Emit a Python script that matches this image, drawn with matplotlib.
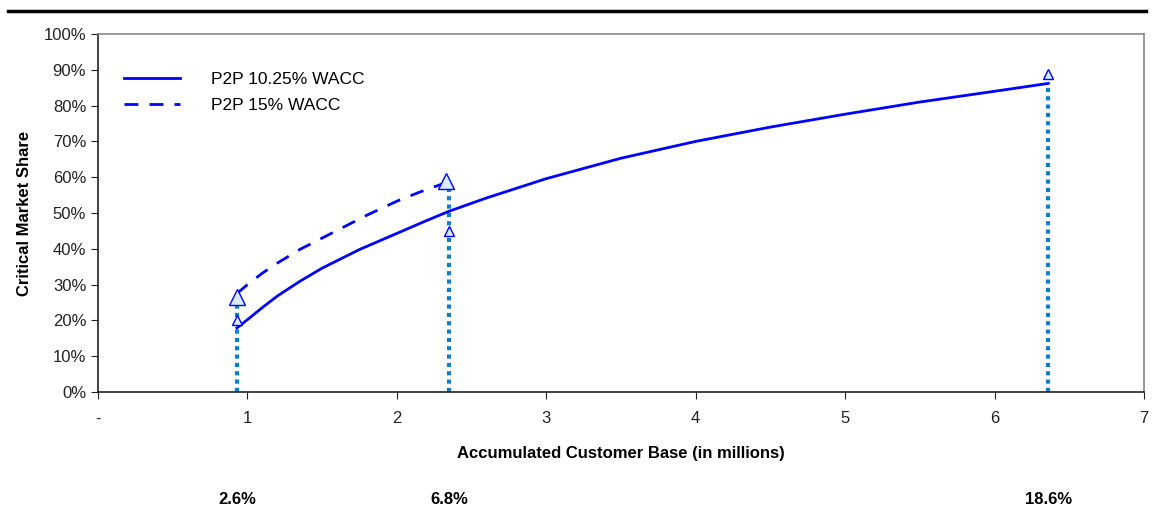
import matplotlib
matplotlib.use('Agg')
import matplotlib.pyplot as plt
from matplotlib.ticker import FixedLocator, FixedFormatter, PercentFormatter

plt.rcParams['font.family'] = ['Liberation Sans', 'DejaVu Sans']

# solid curve: P2P 10.25% WACC
base_1025 = [0.93, 1.0, 1.1, 1.2, 1.35, 1.5, 1.75, 2.0, 2.2, 2.35, 2.6, 3.0, 3.5,
             4.0, 4.5, 5.0, 5.5, 6.0, 6.36]
share_1025 = [17.9, 20.2, 23.6, 26.8, 30.9, 34.6, 39.8, 44.3, 47.9, 50.5, 54.2, 59.6,
              65.3, 70.0, 74.0, 77.6, 81.0, 84.0, 86.2]

# dashed curve: P2P 15% WACC
base_15 = [0.93, 1.0, 1.1, 1.2, 1.35, 1.5, 1.65, 1.8, 2.0, 2.15, 2.33]
share_15 = [27.5, 30.0, 33.2, 36.0, 39.8, 43.0, 46.2, 49.4, 53.3, 55.8, 58.5]

# break-even markers
drop_x = [0.93, 2.35, 6.36]
drop_top = [26.0, 58.0, 86.2]
big_tri_x = [0.93, 2.33]
big_tri_y = [26.5, 59.0]
small_tri_x = [0.93, 2.35, 6.36]
small_tri_y = [20.0, 45.0, 88.8]
bottom_labels = ['2.6%', '6.8%', '18.6%']

xticks = [0, 1, 2, 3, 4, 5, 6, 7]
xtick_labels = ['-', '1', '2', '3', '4', '5', '6', '7']

fig = plt.figure(figsize=(11.56, 5.13), dpi=100)
ax = fig.add_axes([98 / 1156, 1 - 392 / 513, (1144 - 98) / 1156, (392 - 34) / 513])

for x, top in zip(drop_x, drop_top):
    ax.plot([x, x], [0, top], color='#0a7fd0', linestyle=(0, (1, 1)), linewidth=3,
            dash_capstyle='butt', zorder=2)

ax.plot(base_1025, share_1025, color='#0000ff', linewidth=2, label='P2P 10.25% WACC', zorder=3)
ax.plot(base_15, share_15, color='#0000ff', linewidth=2, linestyle=(0, (5, 4)),
        label='P2P 15% WACC', zorder=3)

ax.plot(big_tri_x, big_tri_y, linestyle='none', marker='^', markersize=11,
        markerfacecolor='#d8ecff', markeredgecolor='#0000ff', markeredgewidth=1, zorder=4)
ax.plot(small_tri_x, small_tri_y, linestyle='none', marker='^', markersize=7,
        markerfacecolor='#d8ecff', markeredgecolor='#0000ff', markeredgewidth=1, zorder=4)

ax.set_xlim(0, 7)
ax.set_ylim(0, 100)
ax.xaxis.set_major_locator(FixedLocator(xticks))
ax.xaxis.set_major_formatter(FixedFormatter(xtick_labels))
ax.set_yticks(range(0, 101, 10))
ax.yaxis.set_major_formatter(PercentFormatter(decimals=0))
ax.tick_params(axis='both', direction='out', length=5, labelsize=12, colors='#222222')
ax.tick_params(axis='x', pad=9)
for name, spine in ax.spines.items():
    spine.set_color('#888888' if name in ('top', 'right') else '#222222')
    spine.set_linewidth(1.2)

ax.set_xlabel('Accumulated Customer Base (in millions)', fontsize=12, fontweight='bold', labelpad=14)
ax.set_ylabel('Critical Market Share', fontsize=12, fontweight='bold', labelpad=8)

ax.legend(loc='upper left', bbox_to_anchor=(0.01, 0.937), frameon=False, fontsize=12.5,
          handlelength=3.2, handletextpad=1.8, labelspacing=0.62)

label_y = -(500 - 392) / (392 - 34)
for x, lab in zip(drop_x, bottom_labels):
    ax.text(x, label_y, lab, transform=ax.get_xaxis_transform(), ha='center', va='center',
            fontsize=12, fontweight='bold')

fig.add_artist(plt.Line2D([8 / 1156, 1146 / 1156], [1 - 11 / 513, 1 - 11 / 513],
                          color='black', linewidth=2.5))

fig.savefig('out.png', dpi=100, facecolor='white')
